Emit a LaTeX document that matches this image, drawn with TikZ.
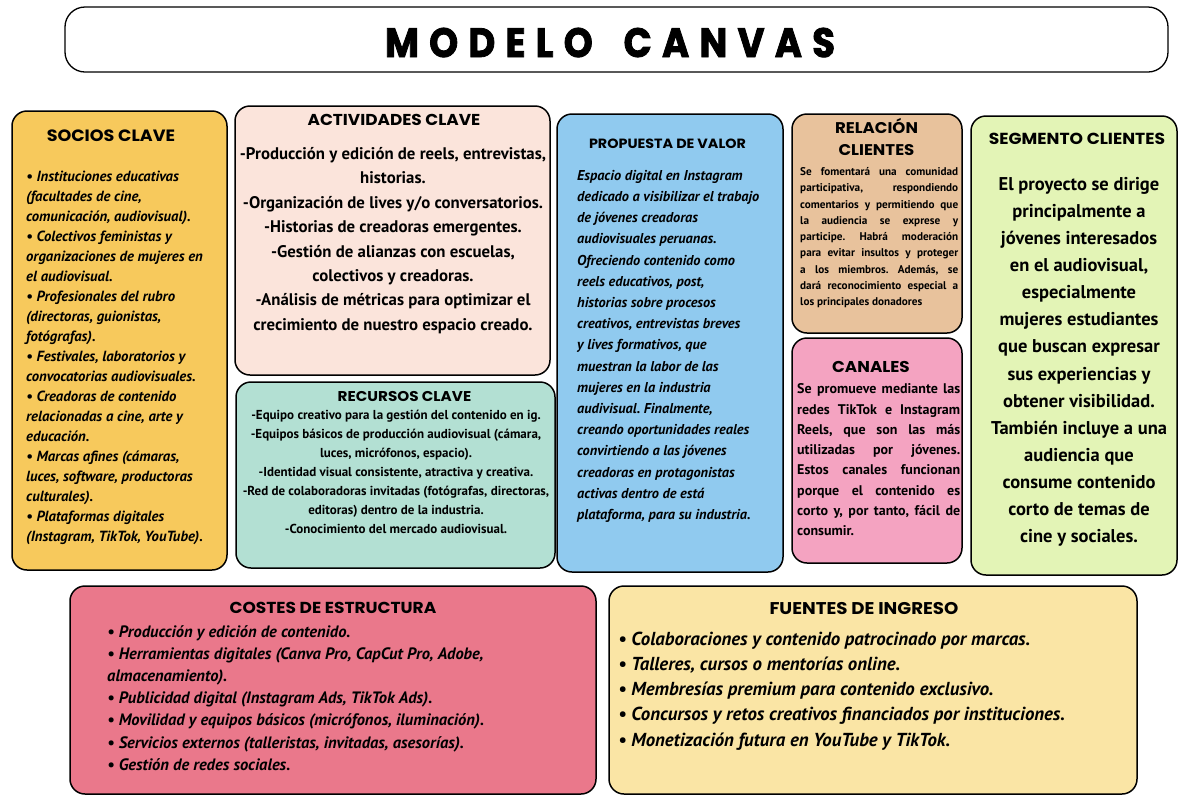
\documentclass[tikz,border=0pt]{standalone}
\usepackage{fontspec}
\setmainfont{PT Sans}
\newfontfamily\headfont{Poppins}[FakeStretch=1.07]
\newfontfamily\titlefont{Poppins}[FakeStretch=0.9, FakeBold=2]
\definecolor{cSocios}{HTML}{F7C95C}
\definecolor{cActiv}{HTML}{FBE4DB}
\definecolor{cRecur}{HTML}{B3E0D3}
\definecolor{cProp}{HTML}{90CAEF}
\definecolor{cRel}{HTML}{E8C29C}
\definecolor{cCan}{HTML}{F4A3C1}
\definecolor{cSeg}{HTML}{E3F4B6}
\definecolor{cCost}{HTML}{EA788B}
\definecolor{cFuen}{HTML}{FAE5A5}
\newcommand\jl[2]{\makebox[#1][s]{#2}}
\frenchspacing
\tikzset{
  panel/.style={draw=black, line width=1.5pt, rounded corners=15pt, inner sep=0pt, outer sep=0pt, anchor=north west},
  head/.style={font=\headfont\bfseries\fontsize{#1}{#1}\selectfont, inner sep=0pt, anchor=base},
  bodyL/.style={inner sep=0pt, anchor=north west, align=left},
  bodyC/.style={inner sep=0pt, anchor=north, align=center},
}
\begin{document}
\frenchspacing
\begin{tikzpicture}[x=1pt,y=-1pt]
\useasboundingbox (0,0) rectangle (1179,796);
% title
\node[panel, rounded corners=20pt, line width=1.3pt, fill=white, minimum width=1103pt, minimum height=65pt] (titlebox) at (65,7) {};
\node[inner sep=0pt, anchor=base, font=\titlefont\bfseries\fontsize{41}{41}\selectfont] (title) at (610,57)
  {\makebox[450pt][s]{M\hfill O\hfill D\hfill E\hfill L\hfill O\hfill\hfill\hfill C\hfill A\hfill N\hfill V\hfill A\hfill S}};
% panels
\node[panel, fill=cSocios, minimum width=215pt, minimum height=459pt] (socios) at (12,111) {};
\node[panel, fill=cActiv, minimum width=315pt, minimum height=269pt] (activ) at (235,106) {};
\node[panel, fill=cRecur, minimum width=319pt, minimum height=186pt] (recur) at (236,382) {};
\node[panel, fill=cProp, minimum width=226pt, minimum height=458pt] (prop) at (557,114) {};
\node[panel, fill=cRel, minimum width=170pt, minimum height=219pt] (rel) at (792,114) {};
\node[panel, fill=cCan, minimum width=170pt, minimum height=225pt] (can) at (792,338) {};
\node[panel, fill=cSeg, minimum width=206pt, minimum height=459pt] (seg) at (971,116) {};
\node[panel, fill=cCost, minimum width=526pt, minimum height=208pt] (cost) at (70,586) {};
\node[panel, fill=cFuen, minimum width=528pt, minimum height=208pt] (fuen) at (609,586) {};
% headings
\node[head=16.4] (hSocios) at (111,141.5) {SOCIOS CLAVE};
\node[head=15.8] (hActiv) at (394,125.5) {ACTIVIDADES CLAVE};
\node[head=14.2] (hRecur) at (404.5,401) {RECURSOS CLAVE};
\node[head=13.4] (hProp) at (667.5,148.8) {PROPUESTA DE VALOR};
\node[head=15.5, align=center, font=\headfont\bfseries\fontsize{15.5}{22}\selectfont] (hRel) at (876.5,155.5) {RELACIÓN\\CLIENTES};
\node[head=15.7] (hCan) at (871,372.5) {CANALES};
\node[head=16] (hSeg) at (1077,144.6) {SEGMENTO CLIENTES};
\node[head=15.9] (hCost) at (333,613.5) {COSTES DE ESTRUCTURA};
\node[head=17] (hFuen) at (864,614) {FUENTES DE INGRESO};
% bodies
\node[bodyL, font=\bfseries\itshape\fontsize{14.7}{20}\selectfont] (tSocios) at (26,171.3) {%
• Instituciones educativas\\
(facultades de cine,\\
comunicación, audiovisual).\\
• Colectivos feministas y\\
organizaciones de mujeres en\\
el audiovisual.\\
• Profesionales del rubro\\
(directoras, guionistas,\\
fotógrafas).\\
• Festivales, laboratorios y\\
convocatorias audiovisuales.\\
• Creadoras de contenido\\
relacionadas a cine, arte y\\
educación.\\
• Marcas afines (cámaras,\\
luces, software, productoras\\
culturales).\\
• Plataformas digitales\\
(Instagram, TikTok, YouTube).};
\node[bodyC, font=\bfseries\fontsize{16.8}{24.4}\selectfont] (tActiv) at (393,147.2) {%
-Producción y edición de reels, entrevistas,\\
historias.\\
-Organización de lives y/o conversatorios.\\
-Historias de creadoras emergentes.\\
-Gestión de alianzas con escuelas,\\
colectivos y creadoras.\\
-Análisis de métricas para optimizar el\\
crecimiento de nuestro espacio creado.};
\node[bodyC, font=\bfseries\fontsize{13}{19}\selectfont] (tRecur) at (396,409.5) {%
-Equipo creativo para la gestión del contenido en ig.\\
-Equipos básicos de producción audiovisual (cámara,\\
luces, micrófonos, espacio).\\
-Identidad visual consistente, atractiva y creativa.\\
-Red de colaboradoras invitadas (fotógrafas, directoras,\\
editoras) dentro de la industria.\\
-Conocimiento del mercado audiovisual.};
\node[bodyL, font=\bfseries\itshape\fontsize{14.3}{21.2}\selectfont] (tProp) at (577,170) {%
Espacio digital en Instagram\\
dedicado a visibilizar el trabajo\\
de jóvenes creadoras\\
audiovisuales peruanas.\\
Ofreciendo contenido como\\
reels educativos, post,\\
historias sobre procesos\\
creativos, entrevistas breves\\
y lives formativos, que\\
muestran la labor de las\\
mujeres en la industria\\
audivisual. Finalmente,\\
creando oportunidades reales\\
convirtiendo a las jóvenes\\
creadoras en protagonistas\\
activas dentro de está\\
plataforma, para su industria.};
\node[bodyL, font=\bfseries\fontsize{11.2}{16.25}\selectfont] (tRel) at (800,167.4) {%
\jl{158pt}{Se fomentará una comunidad}\\
\jl{158pt}{participativa, respondiendo}\\
\jl{158pt}{comentarios y permitiendo que}\\
\jl{158pt}{la audiencia se exprese y}\\
\jl{158pt}{participe. Habrá moderación}\\
\jl{158pt}{para evitar insultos y proteger}\\
\jl{158pt}{a los miembros. Además, se}\\
\jl{158pt}{dará reconocimiento especial a}\\
los principales donadores};
\node[bodyL, font=\bfseries\fontsize{14}{20.3}\selectfont] (tCan) at (797,383.5) {%
\jl{163pt}{Se promueve mediante las}\\
\jl{163pt}{redes TikTok e Instagram}\\
\jl{163pt}{Reels, que son las más}\\
\jl{163pt}{utilizadas por jóvenes.}\\
\jl{163pt}{Estos canales funcionan}\\
\jl{163pt}{porque el contenido es}\\
\jl{163pt}{corto y, por tanto, fácil de}\\
consumir.};
\node[bodyC, font=\bfseries\fontsize{18.5}{27.1}\selectfont] (tSeg) at (1079,177) {%
El proyecto se dirige\\
principalmente a\\
jóvenes interesados\\
en el audiovisual,\\
especialmente\\
mujeres estudiantes\\
que buscan expresar\\
sus experiencias y\\
obtener visibilidad.\\
También incluye a una\\
audiencia que\\
consume contenido\\
corto de temas de\\
cine y sociales.};
\node[bodyL, font=\bfseries\itshape\fontsize{16.5}{22.2}\selectfont] (tCost) at (107,625) {%
• Producción y edición de contenido.\\
• Herramientas digitales (Canva Pro, CapCut Pro, Adobe,\\
almacenamiento).\\
• Publicidad digital (Instagram Ads, TikTok Ads).\\
• Movilidad y equipos básicos (micrófonos, iluminación).\\
• Servicios externos (talleristas, invitadas, asesorías).\\
• Gestión de redes sociales.};
\node[bodyL, font=\bfseries\itshape\fontsize{18.8}{25.25}\selectfont] (tFuen) at (618,631.5) {%
• Colaboraciones y contenido patrocinado por marcas.\\
• Talleres, cursos o mentorías online.\\
• Membresías premium para contenido exclusivo.\\
• Concursos y retos creativos financiados por instituciones.\\
• Monetización futura en YouTube y TikTok.};
\end{tikzpicture}
\end{document}
